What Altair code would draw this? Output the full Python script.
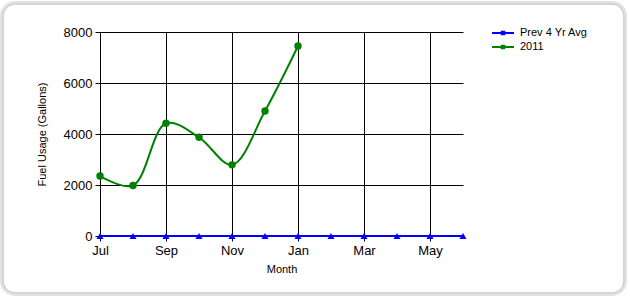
import altair as alt
import pandas as pd

months = ["Jul", "Aug", "Sep", "Oct", "Nov", "Dec", "Jan", "Feb", "Mar", "Apr", "May", "Jun"]
prev_avg = [0, 0, 0, 0, 0, 0, 0, 0, 0, 0, 0, 0]
usage_2011 = [2350, 1980, 4420, 3870, 2790, 4900, 7450, None, None, None, None, None]
series_names = ["Prev 4 Yr Avg", "2011"]
series_colors = ["#0000ff", "#008000"]
series_shapes = ["triangle-up", "circle"]
series_marker_sizes = [50, 55]
y_ticks = [0, 2000, 4000, 6000, 8000]
x_tick_labels = ["Jul", "Sep", "Nov", "Jan", "Mar", "May"]

rows = []
for name, vals in zip(series_names, [prev_avg, usage_2011]):
    for m, v in zip(months, vals):
        if v is not None:
            rows.append({"Series": name, "Month": m, "Value": v})
df = pd.DataFrame(rows)

FONT = "Liberation Sans"

x_enc = alt.X(
    "Month:O",
    sort=months,
    scale=alt.Scale(type="point", padding=0, domain=months),
    axis=alt.Axis(
        title="Month", values=x_tick_labels, labelAngle=0,
        labelFontSize=13, labelFont=FONT, labelColor="black",
        titleFontSize=11, titleFont=FONT, titleFontWeight="normal", titleColor="black",
        titlePadding=6, tickSize=5, labelPadding=3,
        domainColor="black", tickColor="black", gridColor="black", gridWidth=1, grid=True,
    ),
)
y_enc = alt.Y(
    "Value:Q",
    scale=alt.Scale(domain=[0, 8000], nice=False),
    axis=alt.Axis(
        title="Fuel Usage (Gallons)", values=y_ticks, format="d",
        labelFontSize=13, labelFont=FONT, labelColor="black",
        titleFontSize=11, titleFont=FONT, titleFontWeight="normal", titleColor="black",
        titlePadding=16, tickSize=5, labelPadding=3,
        domainColor="black", tickColor="black", gridColor="black", gridWidth=1, grid=True,
    ),
)
color_enc = alt.Color(
    "Series:N",
    scale=alt.Scale(domain=series_names, range=series_colors),
    sort=series_names,
    legend=alt.Legend(
        title=None, orient="none", legendX=397, legendY=-5,
        labelFontSize=11, labelFont=FONT, labelColor="black",
        symbolType="M-2.2,0H2.2M-0.25,0.25H0.25V-0.25H-0.25Z", symbolSize=100,
        symbolStrokeWidth=2, labelOffset=11, rowPadding=2,
    ),
)

frame_data = pd.DataFrame({"k": [0]})
shadow = alt.Chart(frame_data).mark_rect(
    fill="transparent", stroke="#e2e2e2", strokeWidth=4, cornerRadius=13
).encode(x=alt.value(-98), x2=alt.value(525), y=alt.value(-29), y2=alt.value(262))
frame = alt.Chart(frame_data).mark_rect(
    fill="transparent", stroke="#c8c8c8", strokeWidth=1, cornerRadius=12
).encode(x=alt.value(-97), x2=alt.value(524), y=alt.value(-28), y2=alt.value(261))

base = alt.Chart(df)
lines = base.mark_line(interpolate="catmull-rom", strokeWidth=2).encode(
    x=x_enc, y=y_enc, color=color_enc, detail="Series:N"
)
point_layers = []
for name, shp, sz in zip(series_names, series_shapes, series_marker_sizes):
    point_layers.append(
        base.transform_filter(alt.datum.Series == name)
        .mark_point(filled=True, opacity=1, strokeWidth=0, shape=shp, size=sz)
        .encode(
            x=x_enc, y=y_enc,
            fill=alt.Fill("Series:N", scale=alt.Scale(domain=series_names, range=series_colors), legend=None),
        )
    )

chart = alt.layer(shadow, frame, lines, *point_layers).properties(
    width=363, height=204,
    autosize=alt.AutoSizeParams(type="none"),
    padding={"left": 100, "top": 32, "right": 167, "bottom": 64},
    background="white",
).configure_view(stroke=None)

chart.save("out.html", embed_options={"renderer": "svg", "actions": False})
